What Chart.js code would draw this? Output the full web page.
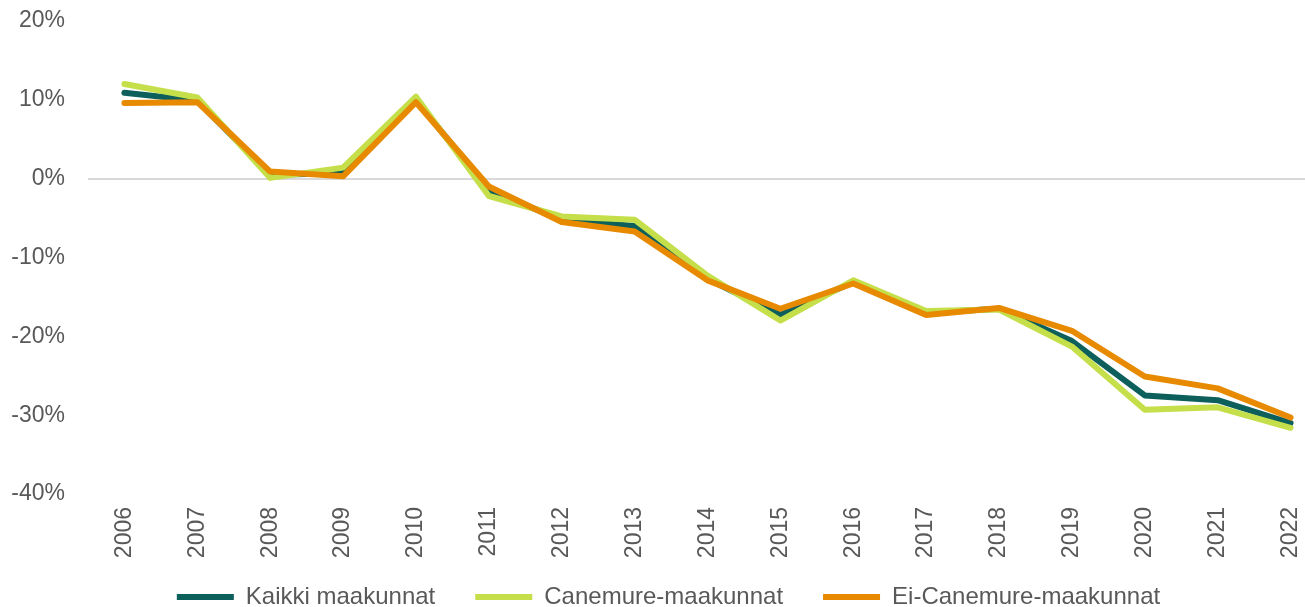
<!DOCTYPE html>
<html>
<head>
<meta charset="utf-8">
<script src="https://cdn.jsdelivr.net/npm/chart.js@4.4.1/dist/chart.umd.min.js"></script>
<style>
  html, body { margin: 0; padding: 0; background: #fff; overflow: hidden; }
  #wrap { position: relative; width: 1330px; height: 607px; }
</style>
</head>
<body>
<div id="wrap"><canvas id="lineChartId"></canvas></div>
<script>
var years = ['2006', '2007', '2008', '2009', '2010', '2011', '2012', '2013', '2014',
             '2015', '2016', '2017', '2018', '2019', '2020', '2021', '2022'];
var kaikki = [10.9, 9.9, 0.5, 0.7, 10.0, -1.5, -5.2, -6.0, -12.7, -17.3, -13.1, -17.0, -16.5, -20.6, -27.5, -28.1, -31.0];
var canemure = [12.0, 10.3, 0.1, 1.4, 10.4, -2.2, -4.8, -5.2, -12.3, -18.0, -12.9, -16.8, -16.6, -21.3, -29.3, -29.0, -31.6];
var eiCanemure = [9.6, 9.7, 0.9, 0.3, 9.7, -1.0, -5.5, -6.7, -12.9, -16.5, -13.3, -17.3, -16.4, -19.3, -25.1, -26.6, -30.3];
var yTicks = [-40, -30, -20, -10, 0, 10, 20];

function makeSeries(label, data, color, order) {
    return {
        label: label,
        data: data,
        borderColor: color,
        backgroundColor: color,
        borderWidth: 6,
        borderCapStyle: 'round',
        borderJoinStyle: 'round',
        pointRadius: 0,
        pointHoverRadius: 0,
        pointStyle: 'line',
        tension: 0,
        fill: false,
        order: order
    };
}

// x labels hang below the (shortened) x axis box, so widen its clip area
var labelRoom = {
    id: 'labelRoom',
    afterLayout: function(chart) {
        var x = chart.scales.x;
        x.bottom = x.top + 75;
    }
};

function init() {
    var chartEl = document.getElementById('lineChartId').getContext('2d');
    Chart.defaults.font.family = '"Liberation Sans", Arial, sans-serif';
    Chart.defaults.color = '#595959';

    new Chart(chartEl, {
        type: 'line',
        data: {
            labels: years,
            datasets: [
                makeSeries('Kaikki maakunnat', kaikki, '#0d5f5c', 3),
                makeSeries('Canemure-maakunnat', canemure, '#c5df4a', 2),
                makeSeries('Ei-Canemure-maakunnat', eiCanemure, '#e88a00', 1)
            ]
        },
        plugins: [labelRoom],
        options: {
            responsive: true,
            maintainAspectRatio: false,
            animation: false,
            layout: { padding: { top: 21, left: 10, right: 3, bottom: -12 } },
            plugins: {
                tooltip: { enabled: false },
                legend: {
                    position: 'bottom',
                    labels: {
                        usePointStyle: true,
                        pointStyleWidth: 57,
                        boxWidth: 57,
                        boxHeight: 6,
                        padding: 40,
                        font: { size: 24 },
                        color: '#595959',
                        sort: function(a, b) { return a.datasetIndex - b.datasetIndex; }
                    }
                }
            },
            scales: {
                x: {
                    offset: true,
                    grid: { display: false, drawTicks: false },
                    border: { display: false },
                    ticks: { minRotation: 90, maxRotation: 90, padding: 13, font: { size: 23 } },
                    afterFit: function(scale) {
                        scale.paddingLeft = 0;
                        scale.paddingRight = 0;
                        scale.height = 51;
                    }
                },
                y: {
                    min: -40,
                    max: 20,
                    afterBuildTicks: function(axis) {
                        axis.ticks = yTicks.map(function(v) { return { value: v }; });
                    },
                    afterFit: function(scale) {
                        scale.paddingTop = 0;
                        scale.paddingBottom = 0;
                        scale.width = 78;
                    },
                    grid: {
                        drawTicks: false,
                        lineWidth: 2,
                        color: function(ctx) {
                            return ctx.tick && ctx.tick.value === 0 ? '#d9d9d9' : 'rgba(0,0,0,0)';
                        }
                    },
                    border: { display: false },
                    ticks: {
                        padding: 23,
                        font: { size: 23 },
                        callback: function(v) { return v + '%'; }
                    }
                }
            }
        }
    });
}

init();
</script>
</body>
</html>
